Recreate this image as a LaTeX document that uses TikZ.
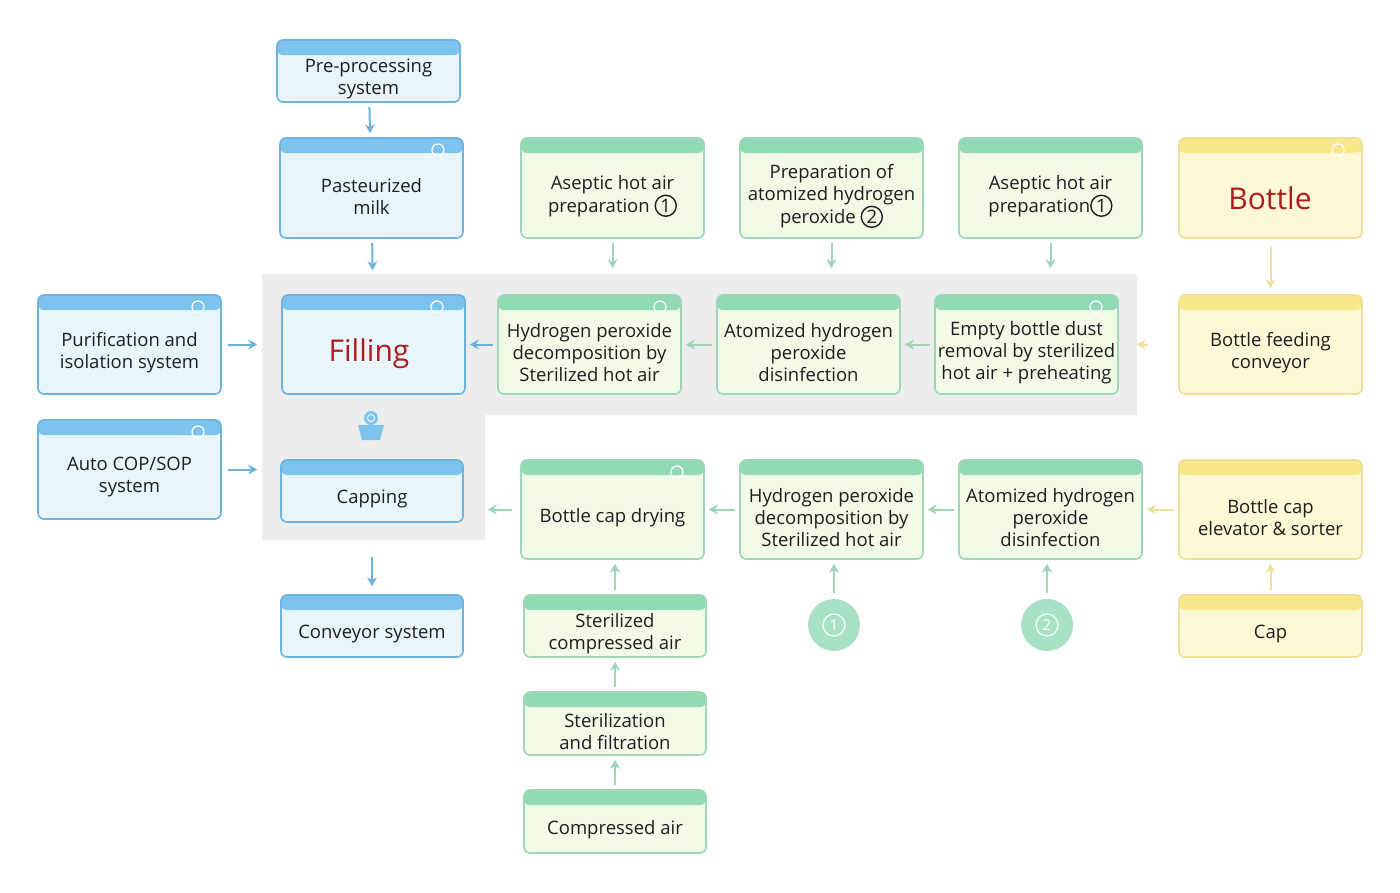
\documentclass[tikz,border=0pt]{standalone}
\usepackage{fontspec}
\setmainfont{Open Sans}
\usetikzlibrary{arrows.meta}
\begin{document}
\definecolor{bH}{HTML}{7CC4EE}\definecolor{bB}{HTML}{E8F6FC}\definecolor{bD}{HTML}{6FB3DD}
\definecolor{gH}{HTML}{92D9B6}\definecolor{gB}{HTML}{F2FAE8}\definecolor{gD}{HTML}{9FD6B8}
\definecolor{yH}{HTML}{F8E88A}\definecolor{yB}{HTML}{FDF9D6}\definecolor{yD}{HTML}{EDE09A}
\definecolor{red}{HTML}{B01C1C}\definecolor{txt}{HTML}{1E1E1E}
\newcommand{\cn}[1]{\tikz[baseline=(c.base)]\node[circle,draw,line width=1.4pt,inner sep=0.8pt,minimum size=21pt](c){#1};}
\begin{tikzpicture}[x=1pt,y=-1pt,
 bx/.style args={#1/#2/#3}{draw=#3,line width=1.6pt,fill=#2,rounded corners=6pt,
   path picture={\fill[#1] ([yshift=1pt]path picture bounding box.north west) rectangle ([yshift=-15pt]path picture bounding box.north east);}},
 blue/.style={bx=bH/bB/bD}, green/.style={bx=gH/gB/gD}, yel/.style={bx=yH/yB/yD},
 t/.style={font=\fontsize{18.5}{22}\selectfont,text=txt,align=center},
 ab/.style={-{Stealth[length=9pt,width=10pt]},line width=2pt,draw=bD,shorten >=4pt,shorten <=4pt},
 ag/.style={ab,draw=gD}, ay/.style={ab,draw=yD},
 ic/.style={draw=white,line width=1.2pt,circle,minimum size=12pt,inner sep=0}]
\useasboundingbox (0,0) rectangle (1400,892);
\fill[white] (0,0) rectangle (1400,892);
\fill[black!7] (262,274) -- (1137,274) -- (1137,415) -- (485,415) -- (485,540) -- (262,540) -- cycle;
\newcommand{\B}[7]{\node[#6,minimum width=#4-#2,minimum height=#5-#3,inner sep=0] (#1) at ({(#2+#4)/2},{(#3+#5)/2}) {};
 \node[t] (#1t) at ({(#2+#4)/2},{(#3+#5)/2+8}) {#7};}
\B{pre}{277}{40}{460}{102}{blue}{Pre-processing\\system}
\B{past}{280}{138}{463}{238}{blue}{Pasteurized\\milk}
\B{ah1}{521}{138}{704}{238}{green}{Aseptic hot air\\preparation \cn{1}}
\B{prep}{740}{138}{923}{238}{green}{Preparation of\\atomized hydrogen\\peroxide \cn{2}}
\B{ah2}{959}{138}{1142}{238}{green}{Aseptic hot air\\preparation\cn{1}}
\B{bot}{1179}{138}{1362}{238}{yel}{}
\node[font=\fontsize{30}{34}\selectfont,text=red] at (1270,198) {Bottle};
\B{pur}{38}{295}{221}{394}{blue}{Purification and\\isolation system}
\B{fill}{282}{295}{465}{394}{blue}{}
\node[font=\fontsize{30}{34}\selectfont,text=red] at (369,354) {Filling};
\B{hd1}{498}{295}{681}{394}{green}{Hydrogen peroxide\\decomposition by\\Sterilized hot air}
\B{at1}{717}{295}{900}{394}{green}{Atomized hydrogen\\peroxide\\disinfection}
\B{emp}{935}{295}{1118}{394}{green}{Empty bottle dust\\removal by sterilized\\hot air + preheating}
\B{feed}{1179}{295}{1362}{394}{yel}{Bottle feeding\\conveyor}
\B{cop}{38}{420}{221}{519}{blue}{Auto COP/SOP\\system}
\B{cap}{281}{460}{463}{522}{blue}{Capping}
\B{dry}{521}{460}{704}{559}{green}{Bottle cap drying}
\B{hd2}{740}{460}{923}{559}{green}{Hydrogen peroxide\\decomposition by\\Sterilized hot air}
\B{at2}{959}{460}{1142}{559}{green}{Atomized hydrogen\\peroxide\\disinfection}
\B{elev}{1179}{460}{1362}{559}{yel}{Bottle cap\\elevator \& sorter}
\B{conv}{281}{595}{463}{657}{blue}{Conveyor system}
\B{sca}{524}{595}{706}{657}{green}{Sterilized\\compressed air}
\B{sf}{524}{692}{706}{755}{green}{Sterilization\\and filtration}
\B{ca}{524}{790}{706}{853}{green}{Compressed air}
\B{capb}{1179}{595}{1362}{657}{yel}{Cap}
% header icons
\foreach \a/\b in {438/150,1338/150,198/307,437/307,660/307,1096/307,198/432,677/472}{
 \node[ic] at (\a,\b) {};}
% circles
\node[circle,fill=gH!80,minimum size=52pt,inner sep=0] (c1) at (834,625) {};
\node[circle,draw=white,line width=1.2pt,minimum size=22pt,text=white,font=\fontsize{15}{15}\selectfont,inner sep=0] at (834,625) {1};
\node[circle,fill=gH!80,minimum size=52pt,inner sep=0] (c2) at (1047,625) {};
\node[circle,draw=white,line width=1.2pt,minimum size=22pt,text=white,font=\fontsize{15}{15}\selectfont,inner sep=0] at (1047,625) {2};
% capping icon
\fill[bH] (358,425) -- (384,425) -- (380,440) -- (362,440) -- cycle;
\fill[bH] (371,418) circle (7);
\draw[white,line width=0.8pt] (371,418) circle (3.5);
% arrows
\draw[ab] (pre) -- (past);
\draw[ab,shorten >=24pt] (past) -- (fill);
\draw[ag,shorten >=26pt] (ah1) -- (ah1|-fill.north);
\draw[ag,shorten >=26pt] (prep) -- (prep|-at1.north);
\draw[ag,shorten >=26pt] (ah2) -- (ah2|-emp.north);
\draw[ay,shorten >=6pt,shorten <=8pt] (bot) -- (feed);
\draw[ab,shorten >=24pt,shorten <=6pt] (pur) -- (fill);
\draw[ab] (hd1) -- (fill);
\draw[ag] (at1) -- (hd1);
\draw[ag] (emp) -- (at1);
\draw[ay,shorten >=18pt,shorten <=30pt] (feed) -- (emp);
\draw[ab,shorten >=24pt,shorten <=6pt] (cop.east) -- (cop.east-|fill.west);
\draw[ag,shorten >=24pt,shorten <=8pt] (dry.west) -- (dry.west-|cap.east);
\draw[ag] (hd2) -- (dry);
\draw[ag] (at2) -- (hd2);
\draw[ay] (elev) -- (at2);
\draw[ab,shorten <=34pt,shorten >=8pt] (cap) -- (conv);
\draw[ag] (sca) -- (sca|-dry.south);
\draw[ag] (sf) -- (sca);
\draw[ag] (ca) -- (sf);
\draw[ag,shorten <=6pt] (c1) -- (c1|-hd2.south);
\draw[ag,shorten <=6pt] (c2) -- (c2|-at2.south);
\draw[ay] (capb) -- (elev);
\end{tikzpicture}
\end{document}
